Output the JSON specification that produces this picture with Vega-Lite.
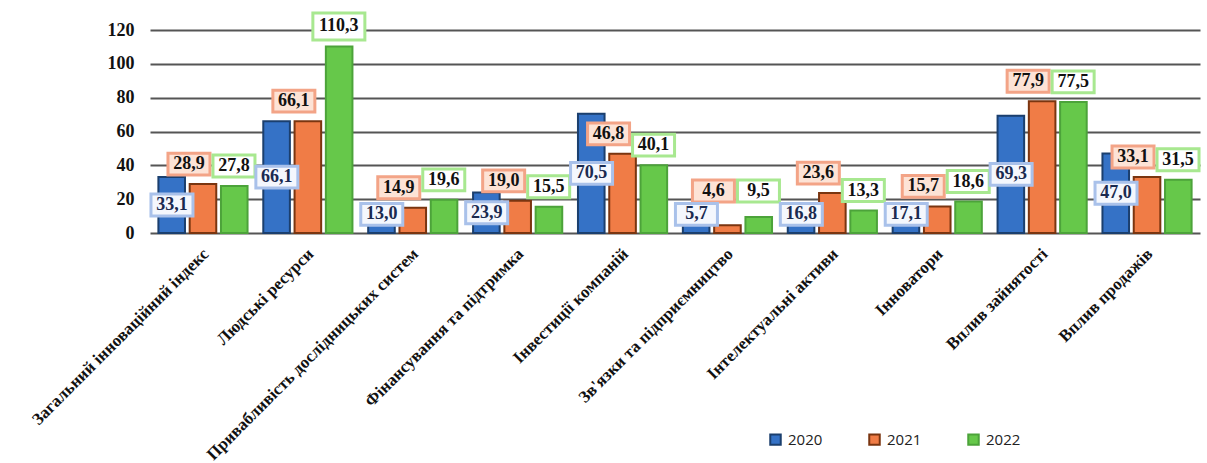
{
  "$schema": "https://vega.github.io/schema/vega-lite/v6.json",
  "autosize": "none",
  "width": 1050,
  "height": 203,
  "padding": {"left": 150, "top": 30, "right": 7, "bottom": 230},
  "background": "white",
  "config": {
    "view": {"stroke": null},
    "locale": {"number": {"decimal": ",", "thousands": " ", "grouping": [3], "currency": ["", ""]}},
    "axisY": {
      "title": null, "domain": false, "ticks": false,
      "grid": true, "gridColor": "#555555", "gridWidth": 2.2, "labelOverlap": false,
      "labelFont": "Liberation Serif", "labelFontWeight": "bold", "labelFontSize": 18,
      "labelColor": "#111", "labelPadding": 16, "tickCount": 7
    }
  },
  "data": {
    "values": [
      {"cat": "Загальний інноваційний індекс", "year": "2020", "v": 33.1},
      {"cat": "Загальний інноваційний індекс", "year": "2021", "v": 28.9},
      {"cat": "Загальний інноваційний індекс", "year": "2022", "v": 27.8},
      {"cat": "Людські ресурси", "year": "2020", "v": 66.1},
      {"cat": "Людські ресурси", "year": "2021", "v": 66.1},
      {"cat": "Людські ресурси", "year": "2022", "v": 110.3},
      {"cat": "Привабливість дослідницьких систем", "year": "2020", "v": 13.0},
      {"cat": "Привабливість дослідницьких систем", "year": "2021", "v": 14.9},
      {"cat": "Привабливість дослідницьких систем", "year": "2022", "v": 19.6},
      {"cat": "Фінансування та підтримка", "year": "2020", "v": 23.9},
      {"cat": "Фінансування та підтримка", "year": "2021", "v": 19.0},
      {"cat": "Фінансування та підтримка", "year": "2022", "v": 15.5},
      {"cat": "Інвестиції компаній", "year": "2020", "v": 70.5},
      {"cat": "Інвестиції компаній", "year": "2021", "v": 46.8},
      {"cat": "Інвестиції компаній", "year": "2022", "v": 40.1},
      {"cat": "Зв'язки та підприємництво", "year": "2020", "v": 5.7},
      {"cat": "Зв'язки та підприємництво", "year": "2021", "v": 4.6},
      {"cat": "Зв'язки та підприємництво", "year": "2022", "v": 9.5},
      {"cat": "Інтелектуальні активи", "year": "2020", "v": 16.8},
      {"cat": "Інтелектуальні активи", "year": "2021", "v": 23.6},
      {"cat": "Інтелектуальні активи", "year": "2022", "v": 13.3},
      {"cat": "Інноватори", "year": "2020", "v": 17.1},
      {"cat": "Інноватори", "year": "2021", "v": 15.7},
      {"cat": "Інноватори", "year": "2022", "v": 18.6},
      {"cat": "Вплив зайнятості", "year": "2020", "v": 69.3},
      {"cat": "Вплив зайнятості", "year": "2021", "v": 77.9},
      {"cat": "Вплив зайнятості", "year": "2022", "v": 77.5},
      {"cat": "Вплив продажів", "year": "2020", "v": 47.0},
      {"cat": "Вплив продажів", "year": "2021", "v": 33.1},
      {"cat": "Вплив продажів", "year": "2022", "v": 31.5}
    ]
  },
  "transform": [
    {"calculate": "max(datum.v / 2, 11)", "as": "ly"},
    {"calculate": "max(datum.v, 13)", "as": "ly2"}
  ],
  "encoding": {
    "x": {
      "field": "cat", "type": "nominal", "sort": null,
      "scale": {"paddingInner": 0.15, "paddingOuter": 0.08},
      "axis": {
        "title": null, "labelAngle": -45, "labelAlign": "right", "labelBaseline": "middle",
        "labelFont": "Liberation Serif", "labelFontWeight": "bold", "labelFontSize": 17,
        "labelColor": "#111", "ticks": false, "domain": false, "labelPadding": 18, "labelOffset": 3,
        "labelLimit": 0, "labelOverlap": false
      }
    },
    "y": {
      "field": "v", "type": "quantitative",
      "scale": {"domain": [0, 120], "nice": false},
      "axis": {"values": [0, 20, 40, 60, 80, 100, 120], "labelOverlap": false}
    }
  },
  "layer": [
    {
      "mark": {"type": "bar", "strokeWidth": 2},
      "encoding": {
        "xOffset": {"field": "year", "type": "nominal", "scale": {"paddingInner": 0.15, "paddingOuter": 0}},
        "fill": {
          "field": "year", "type": "nominal",
          "scale": {"domain": ["2020", "2021", "2022"], "range": ["#3572c6", "#f07c46", "#66c84a"]},
          "legend": {
            "title": null, "orient": "none", "legendX": 618, "legendY": 402, "direction": "horizontal",
            "symbolType": "square", "symbolSize": 110, "symbolStrokeWidth": 2,
            "labelFont": "Open Sans", "labelFontSize": 15, "labelColor": "#222",
            "columnPadding": 42, "labelOffset": 5
          }
        },
        "stroke": {
          "field": "year", "type": "nominal",
          "scale": {"domain": ["2020", "2021", "2022"], "range": ["#1b3f6e", "#7a3510", "#4ca33a"]},
          "legend": {
            "title": null, "orient": "none", "legendX": 618, "legendY": 402, "direction": "horizontal",
            "symbolType": "square", "symbolSize": 110, "symbolStrokeWidth": 2,
            "labelFont": "Open Sans", "labelFontSize": 15, "labelColor": "#222",
            "columnPadding": 42, "labelOffset": 5
          }
        }
      }
    },
    {
      "transform": [{"filter": "datum.year === '2021'"}],
      "mark": {"type": "point", "filled": true, "opacity": 1, "shape": "M-1,-0.52H1V0.52H-1Z", "strokeWidth": 3, "yOffset": -20, "xOffset": -14, "fill": "#fde3d6", "stroke": "#f3a487"},
      "encoding": {
        "y": {"field": "ly2", "type": "quantitative"},
        "size": {"value": 1764}
      }
    },
    {
      "transform": [{"filter": "datum.year === '2022'"}],
      "mark": {"type": "point", "filled": true, "opacity": 1, "shape": "M-1,-0.52H1V0.52H-1Z", "strokeWidth": 3, "yOffset": -20, "xOffset": 31, "fill": "#ffffff", "stroke": "#a8e890"},
      "encoding": {
        "y": {"field": "ly2", "type": "quantitative"},
        "size": {"condition": {"test": "datum.v >= 100", "value": 2704}, "value": 1764}
      }
    },
    {
      "transform": [{"filter": "datum.year === '2021'"}],
      "mark": {"type": "text", "font": "Liberation Serif", "fontWeight": "bold", "fontSize": 18, "yOffset": -20, "xOffset": -14, "baseline": "middle", "color": "#111"},
      "encoding": {
        "y": {"field": "ly2", "type": "quantitative"},
        "text": {"field": "v", "type": "quantitative", "format": ".1f"}
      }
    },
    {
      "transform": [{"filter": "datum.year === '2022'"}],
      "mark": {"type": "text", "font": "Liberation Serif", "fontWeight": "bold", "fontSize": 18, "yOffset": -20, "xOffset": 31, "baseline": "middle", "color": "#111"},
      "encoding": {
        "y": {"field": "ly2", "type": "quantitative"},
        "text": {"field": "v", "type": "quantitative", "format": ".1f"}
      }
    },
    {
      "transform": [{"filter": "datum.year === '2020'"}],
      "mark": {"type": "point", "filled": true, "opacity": 1, "shape": "M-1,-0.52H1V0.52H-1Z", "strokeWidth": 3, "xOffset": -31, "fill": "#f4f7fd", "stroke": "#a9c1ea"},
      "encoding": {
        "y": {"field": "ly", "type": "quantitative"},
        "size": {"value": 1764}
      }
    },
    {
      "transform": [{"filter": "datum.year === '2020'"}],
      "mark": {"type": "text", "font": "Liberation Serif", "fontWeight": "bold", "fontSize": 18, "xOffset": -31, "baseline": "middle", "color": "#1a2a50"},
      "encoding": {
        "y": {"field": "ly", "type": "quantitative"},
        "text": {"field": "v", "type": "quantitative", "format": ".1f"}
      }
    }
  ]
}
